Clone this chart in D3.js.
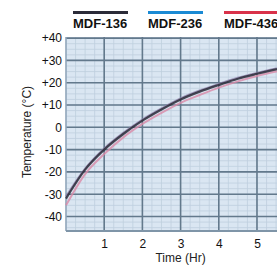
<!DOCTYPE html>
<html>
<head>
<meta charset="utf-8">
<script src="https://cdn.jsdelivr.net/npm/d3@7"></script>
<style>
  body { margin: 0; background: #fff; }
  text { font-family: "Liberation Sans Narrow", "Arial Narrow", "Liberation Sans", sans-serif; }
</style>
</head>
<body>
<div id="chart"></div>
<script>
// data
var hours = [0, 0.5, 1, 1.5, 2, 2.5, 3, 3.5, 4, 4.5, 5, 5.5, 6, 6.5];
var mdf136 = [-32, -19, -10, -3, 3, 8, 12.5, 16, 19, 21.8, 24, 26, 27.6, 29];
var mdf236 = [-31, -18.5, -9.5, -2.5, 3.5, 8.5, 13, 16.5, 19.5, 22.2, 24.4, 26.4, 28, 29.4];
var mdf436 = [-35, -21, -12, -4.5, 1.5, 6.5, 11, 14.5, 17.8, 20.6, 23, 25, 26.8, 28.3];
var seriesNames = ["MDF-136", "MDF-236", "MDF-436"];
var seriesColors = ["#2b2b38", "#1a8ad4", "#d9324a"];
var xTicks = [1, 2, 3, 4, 5, 6];
var yTicks = [40, 30, 20, 10, 0, -10, -20, -30, -40];

var svgWidth = 277, svgHeight = 266;
var margin = { top: 37, right: -22, bottom: 35, left: 66 };
var width = svgWidth - margin.left - margin.right;
var height = svgHeight - margin.top - margin.bottom;

var svg = d3.select("#chart").append("svg")
    .attr("width", svgWidth)
    .attr("height", svgHeight);

var chartGroup = svg.append("g")
    .attr("transform", "translate(" + margin.left + "," + margin.top + ")");

var xScale = d3.scaleLinear().domain([0, 6.1]).range([0, width]);
var yScale = d3.scaleLinear().domain([-46.5, 40.5]).range([height, 0]);

// background
chartGroup.append("rect")
    .attr("width", width).attr("height", height)
    .attr("fill", "#dae6f2");

// fine grid
var fineX = d3.range(0, 6.2, 0.25), fineY = d3.range(-45, 41, 2.5);
chartGroup.selectAll(".fx").data(fineX).enter().append("line")
    .attr("x1", d => xScale(d)).attr("x2", d => xScale(d))
    .attr("y1", 0).attr("y2", height)
    .attr("stroke", "#bfcfde").attr("stroke-width", 0.8);
chartGroup.selectAll(".fy").data(fineY).enter().append("line")
    .attr("y1", d => yScale(d)).attr("y2", d => yScale(d))
    .attr("x1", 0).attr("x2", width)
    .attr("stroke", "#bfcfde").attr("stroke-width", 0.8);

// major grid
chartGroup.selectAll(".mx").data(xTicks).enter().append("line")
    .attr("x1", d => xScale(d)).attr("x2", d => xScale(d))
    .attr("y1", 0).attr("y2", height)
    .attr("stroke", "#63798c").attr("stroke-width", 1.6);
chartGroup.selectAll(".my").data(yTicks).enter().append("line")
    .attr("y1", d => yScale(d)).attr("y2", d => yScale(d))
    .attr("x1", 0).attr("x2", width)
    .attr("stroke", "#63798c").attr("stroke-width", 1.6);

// frame edges
chartGroup.append("line").attr("x1", 0).attr("x2", 0).attr("y1", 0).attr("y2", height)
    .attr("stroke", "#8fa5b8").attr("stroke-width", 1.5);
chartGroup.append("line").attr("x1", 0).attr("x2", width).attr("y1", height).attr("y2", height)
    .attr("stroke", "#7f95a8").attr("stroke-width", 2);

// curves
var line = d3.line().curve(d3.curveMonotoneX);
var all = [mdf436, mdf236, mdf136];
var cols = ["#d98aa8", "#8c7fa8", seriesColors[0]];
all.forEach(function (vals, i) {
    chartGroup.append("path")
        .datum(hours.map((h, j) => [xScale(h), yScale(vals[j])]))
        .attr("d", line)
        .attr("fill", "none")
        .attr("stroke", cols[i])
        .attr("stroke-width", i === 2 ? 2.2 : 2)
        .attr("opacity", i === 2 ? 0.85 : 0.8);
});

// axes
var leftAxis = d3.axisLeft(yScale).tickValues(yTicks).tickSize(0).tickPadding(4)
    .tickFormat(d => d > 0 ? "+" + d : d);
var yAxisG = chartGroup.append("g").call(leftAxis);
yAxisG.select(".domain").remove();
yAxisG.selectAll("text").attr("font-size", 12).attr("fill", "#111")
    .attr("font-family", "'Liberation Sans Narrow', 'Arial Narrow', sans-serif");

var bottomAxis = d3.axisBottom(xScale).tickValues(xTicks).tickSize(0).tickPadding(8)
    .tickFormat(d3.format("d"));
var xAxisG = chartGroup.append("g").attr("transform", `translate(0, ${height})`).call(bottomAxis);
xAxisG.select(".domain").remove();
xAxisG.selectAll("text").attr("font-size", 12).attr("fill", "#111")
    .attr("font-family", "'Liberation Sans Narrow', 'Arial Narrow', sans-serif");

// axis titles
svg.append("text")
    .attr("transform", "translate(31, 132) rotate(-90)")
    .attr("text-anchor", "middle")
    .attr("font-size", 12).attr("fill", "#222")
    .text("Temperature (°C)");

svg.append("text")
    .attr("x", margin.left + xScale(3)).attr("y", 262)
    .attr("text-anchor", "middle")
    .attr("font-size", 12).attr("fill", "#222")
    .text("Time (Hr)");

// legend
var legendX = [73, 148, 224];
seriesNames.forEach(function (name, i) {
    svg.append("line")
        .attr("x1", legendX[i]).attr("x2", legendX[i] + 55)
        .attr("y1", 12.5).attr("y2", 12.5)
        .attr("stroke", seriesColors[i]).attr("stroke-width", 3);
    svg.append("text")
        .attr("x", legendX[i]).attr("y", 28)
        .attr("font-size", 13).attr("font-weight", "bold").attr("fill", "#111")
        .text(name);
});
</script>
</body>
</html>
